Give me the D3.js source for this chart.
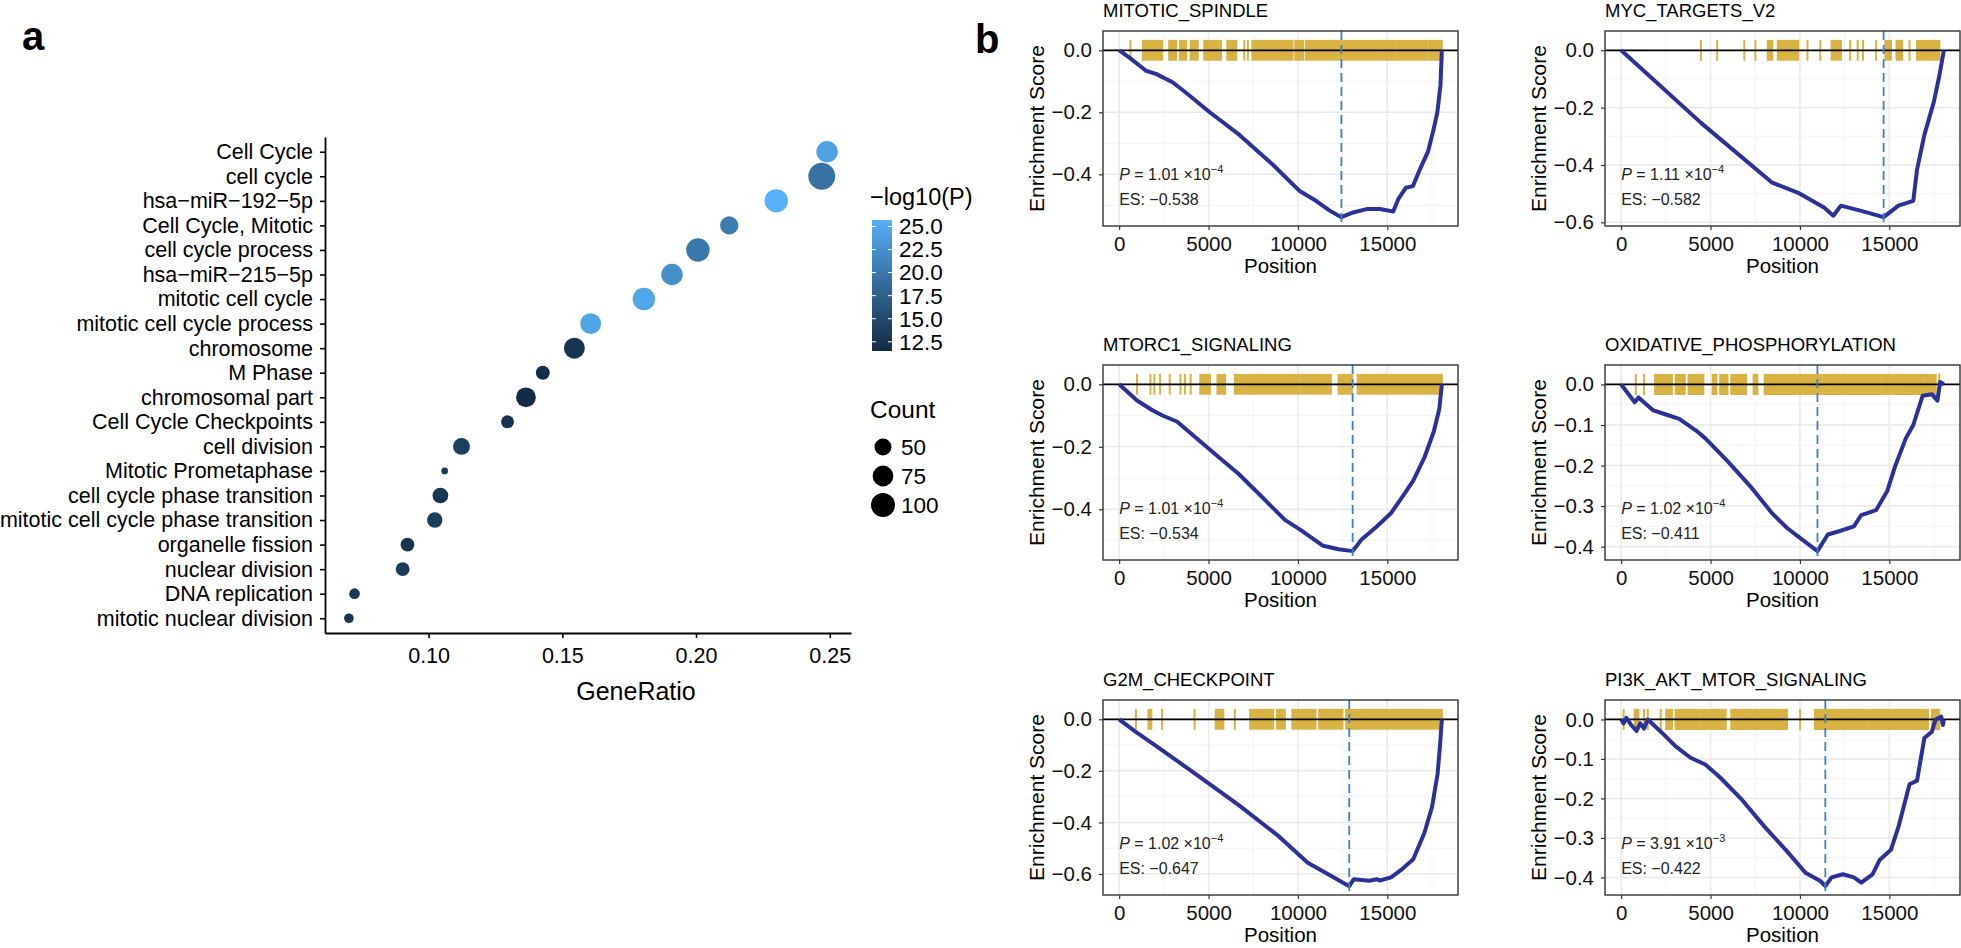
<!DOCTYPE html>
<html>
<head>
<meta charset="utf-8">
<script src="https://cdn.jsdelivr.net/npm/d3@7"></script>
<style>
  body { margin: 0; background: #fff; }
  svg { font-family: "Liberation Sans", Arial, Helvetica, sans-serif; }
</style>
</head>
<body>
<svg id="fig" width="1961" height="948"></svg>
<script>
// ---- panel a : enrichment dot plot ----
var terms = ["Cell Cycle", "cell cycle", "hsa\u2212miR\u2212192\u22125p", "Cell Cycle, Mitotic",
  "cell cycle process", "hsa\u2212miR\u2212215\u22125p", "mitotic cell cycle", "mitotic cell cycle process",
  "chromosome", "M Phase", "chromosomal part", "Cell Cycle Checkpoints", "cell division",
  "Mitotic Prometaphase", "cell cycle phase transition", "mitotic cell cycle phase transition",
  "organelle fission", "nuclear division", "DNA replication", "mitotic nuclear division"];
var geneRatio = [0.249, 0.247, 0.230, 0.2124, 0.2007, 0.191, 0.1805, 0.1606, 0.1545, 0.1427,
  0.1364, 0.1295, 0.1123, 0.106, 0.1044, 0.1023, 0.0921, 0.0903, 0.0723, 0.0702];
var geneCount = [80, 125, 95, 58, 95, 80, 88, 76, 76, 34, 68, 29, 50, 8, 43, 41, 33, 33, 20, 16];
var logP = [24.3, 19.4, 25.7, 20.5, 20.0, 22.6, 24.7, 24.5, 12.6, 11.9, 11.5, 12.4, 13.9, 13.6,
  12.8, 13.7, 12.5, 13.4, 13.1, 12.9];
var ratioTicks = [0.10, 0.15, 0.20, 0.25];
var logPTicks = [12.5, 15.0, 17.5, 20.0, 22.5, 25.0];
var countBreaks = [50, 75, 100];

// ---- panel b : GSEA running enrichment score ----
var gseaNames = ["MITOTIC_SPINDLE", "MYC_TARGETS_V2", "MTORC1_SIGNALING",
  "OXIDATIVE_PHOSPHORYLATION", "G2M_CHECKPOINT", "PI3K_AKT_MTOR_SIGNALING"];
var gseaPMant = ["1.01", "1.11", "1.01", "1.02", "1.02", "3.91"];
var gseaPExp = [-4, -4, -4, -4, -4, -3];
var gseaES = [-0.538, -0.582, -0.534, -0.411, -0.647, -0.422];
var esTicks = [
  [0, -0.2, -0.4],
  [0, -0.2, -0.4, -0.6],
  [0, -0.2, -0.4],
  [0, -0.1, -0.2, -0.3, -0.4],
  [0, -0.2, -0.4, -0.6],
  [0, -0.1, -0.2, -0.3, -0.4]];
var posTicks = [0, 5000, 10000, 15000];

// running ES: [rank position, ES]
var esCurves = [
  [[0, 0], [560, -0.023], [1500, -0.066], [2060, -0.076], [2990, -0.103], [3740, -0.137],
   [5050, -0.199], [6730, -0.273], [8600, -0.369], [10100, -0.454], [11030, -0.486],
   [11780, -0.517], [12430, -0.538], [13090, -0.523], [13840, -0.512], [14580, -0.512],
   [15330, -0.52], [15610, -0.48], [16040, -0.443], [16430, -0.438], [16860, -0.379],
   [17280, -0.326], [17600, -0.252], [17800, -0.199], [17970, -0.114], [18050, 0]],
  [[0, 0], [4500, -0.255], [8450, -0.462], [9900, -0.497], [11350, -0.548], [11870, -0.577],
   [12290, -0.542], [13430, -0.56], [14680, -0.582], [15510, -0.542], [16340, -0.525],
   [16550, -0.416], [16960, -0.295], [17490, -0.18], [17800, -0.088], [18050, 0]],
  [[0, 0], [1000, -0.052], [1860, -0.083], [2400, -0.099], [3250, -0.12], [4540, -0.183],
   [5610, -0.235], [6690, -0.287], [7980, -0.36], [9270, -0.434], [10120, -0.465],
   [11410, -0.517], [12270, -0.528], [13060, -0.534], [13560, -0.497], [14410, -0.455],
   [15200, -0.413], [15830, -0.361], [16450, -0.308], [17070, -0.235], [17600, -0.151],
   [17910, -0.078], [18050, 0]],
  [[0, 0], [760, -0.044], [970, -0.032], [1800, -0.064], [2630, -0.076], [3250, -0.085],
   [4290, -0.117], [4710, -0.133], [5950, -0.189], [7200, -0.25], [8450, -0.318],
   [9280, -0.354], [10110, -0.382], [10980, -0.411], [11560, -0.37], [12190, -0.362],
   [13020, -0.35], [13430, -0.322], [14260, -0.31], [14890, -0.262], [15300, -0.205],
   [15920, -0.133], [16340, -0.1], [16860, -0.028], [17380, -0.024], [17690, -0.04],
   [17840, 0.006], [18050, 0]],
  [[0, 0], [890, -0.047], [1960, -0.098], [4540, -0.225], [6690, -0.333], [8830, -0.448],
   [10550, -0.556], [11840, -0.607], [12870, -0.647], [13130, -0.62], [13990, -0.626],
   [14410, -0.62], [14580, -0.625], [15210, -0.613], [15830, -0.581], [16450, -0.543],
   [17070, -0.441], [17500, -0.34], [17810, -0.212], [17950, -0.098], [18050, 0]],
  [[0, 0], [140, -0.01], [290, 0.004], [560, -0.014], [860, -0.029], [1070, -0.01],
   [1280, -0.023], [1490, 0], [2220, -0.031], [3050, -0.068], [3880, -0.097], [4710, -0.114],
   [5540, -0.147], [6790, -0.205], [8030, -0.272], [9280, -0.334], [10310, -0.388],
   [11140, -0.409], [11420, -0.422], [11770, -0.4], [12400, -0.392], [13020, -0.4],
   [13430, -0.413], [14060, -0.392], [14470, -0.355], [15090, -0.33], [15510, -0.272],
   [16130, -0.164], [16550, -0.155], [16960, -0.047], [17380, -0.031], [17590, 0],
   [17900, 0.007], [18000, -0.014], [18050, 0]]];

// gene-set hits along the ranked list, [from, to] (single hits have from == to)
var hitBlocks = [
  [[634, 634], [1330, 2400], [2800, 3200], [3400, 3750], [4000, 4400], [4760, 5700],
   [6050, 6550], [7000, 7000], [7200, 7200], [7450, 8100], [8200, 8600], [8700, 9700],
   [9850, 10300], [10450, 12350], [12450, 14700], [14800, 15400], [15500, 16500],
   [16600, 17200], [17300, 18050]],
  [[4460, 4460], [5370, 5370], [6890, 6890], [7510, 7510], [8200, 8450], [8760, 9900],
   [10420, 10420], [11140, 11140], [11770, 12290], [12810, 12810], [13230, 13230],
   [13530, 13530], [14260, 14260], [14780, 15090], [15400, 15720], [16130, 16130],
   [16550, 17800]],
  [[1000, 1000], [1750, 1750], [1970, 1970], [2290, 2290], [2830, 2830], [3430, 3430],
   [3680, 3680], [4000, 4000], [4540, 5080], [5500, 5930], [6470, 7000], [7100, 8900],
   [9000, 10100], [10200, 11840], [12270, 13020], [13340, 18050]],
  [[820, 820], [1280, 1280], [1900, 2840], [3050, 3560], [3770, 4600], [5120, 5330],
   [5540, 5950], [6160, 6990], [7410, 7620], [8030, 11200], [11300, 14500], [14600, 16900],
   [17000, 17590], [17790, 17790]],
  [[940, 940], [1640, 1800], [2400, 2400], [4220, 4220], [5400, 5830], [6470, 6470],
   [7330, 8620], [8830, 9270], [9690, 10980], [11190, 12490], [12700, 18050]],
  [[140, 140], [760, 970], [1280, 1280], [1490, 1490], [2215, 2215], [2525, 2840],
   [3045, 4400], [4500, 5850], [6160, 7600], [7700, 9280], [10010, 10010], [10840, 13800],
   [13900, 17160], [17380, 17790]]];

var svg = d3.select("#fig");
var fmtMinus = d3.format(".3f");

function drawDotPlot() {
  var left = 325, right = 851, top = 137, bottom = 633;
  var g = svg.append("g");

  var y = d3.scalePoint().domain(terms).range([top, bottom]).padding(0.6);
  var ext = d3.extent(geneRatio), pad = (ext[1] - ext[0]) * 0.05;
  var x = d3.scaleLinear().domain([ext[0] - pad, ext[1] + pad]).range([left, right]);
  var r = d3.scaleSqrt().domain([0, 100]).range([0, 12]);
  var pExt = d3.extent(logP);
  var col = d3.scaleLinear().domain(pExt).range(["#132B43", "#56B1F7"]).interpolate(d3.interpolateLab);

  g.selectAll("circle.dot")
    .data(terms)
    .enter().append("circle")
    .attr("class", "dot")
    .attr("cx", function(d, i) { return x(geneRatio[i]); })
    .attr("cy", function(d) { return y(d); })
    .attr("r", function(d, i) { return r(geneCount[i]); })
    .style("fill", function(d, i) { return col(logP[i]); });

  var ya = g.append("g").attr("transform", "translate(" + left + ",0)")
    .call(d3.axisLeft(y).tickSize(5).tickSizeOuter(0).tickPadding(7));
  var xa = g.append("g").attr("transform", "translate(0," + bottom + ")")
    .call(d3.axisBottom(x).tickValues(ratioTicks).tickFormat(d3.format(".2f"))
      .tickSize(5).tickSizeOuter(0).tickPadding(10));
  [ya, xa].forEach(function(a) {
    a.select(".domain").attr("stroke", "#000").attr("stroke-width", 1.8);
    a.selectAll(".tick line").attr("stroke", "#000").attr("stroke-width", 1.6);
    a.selectAll(".tick text").attr("fill", "#000").style("font-size", "21.5px");
  });

  g.append("text")
    .attr("x", 636).attr("y", 700)
    .attr("text-anchor", "middle")
    .style("font-size", "25px")
    .text("GeneRatio");

  // colour bar legend
  var lx = 872, cbTop = 220, cbBot = 351, cbW = 20;
  g.append("text").attr("x", lx - 2).attr("y", 205).style("font-size", "23.5px").text("\u2212log10(P)");
  var grad = svg.append("defs").append("linearGradient")
    .attr("id", "cbar").attr("x1", 0).attr("y1", 1).attr("x2", 0).attr("y2", 0);
  d3.range(0, 1.0001, 0.1).forEach(function(t) {
    grad.append("stop").attr("offset", t).attr("stop-color", col(pExt[0] + t * (pExt[1] - pExt[0])));
  });
  g.append("rect").attr("x", lx).attr("y", cbTop).attr("width", cbW).attr("height", cbBot - cbTop)
    .style("fill", "url(#cbar)");
  var cy = d3.scaleLinear().domain(pExt).range([cbBot, cbTop]);
  logPTicks.forEach(function(v) {
    g.append("line").attr("x1", lx).attr("x2", lx + 4).attr("y1", cy(v)).attr("y2", cy(v))
      .attr("stroke", "#fff").attr("stroke-width", 1);
    g.append("line").attr("x1", lx + cbW - 4).attr("x2", lx + cbW).attr("y1", cy(v)).attr("y2", cy(v))
      .attr("stroke", "#fff").attr("stroke-width", 1);
    g.append("text").attr("x", lx + 27).attr("y", cy(v)).attr("dy", "0.35em")
      .style("font-size", "22.5px").text(d3.format(".1f")(v));
  });

  // size legend
  g.append("text").attr("x", lx - 2).attr("y", 418).style("font-size", "24.5px").text("Count");
  countBreaks.forEach(function(v, i) {
    var yy = 447 + i * 29;
    g.append("circle").attr("cx", lx + 11).attr("cy", yy).attr("r", r(v)).style("fill", "#000");
    g.append("text").attr("x", lx + 29).attr("y", yy).attr("dy", "0.35em")
      .style("font-size", "22.5px").text(v);
  });

  svg.append("text").attr("x", 22).attr("y", 50).style("font-size", "40px")
    .style("font-weight", "bold").text("a");
}

function minorOf(ticks, dom) {
  var step = Math.abs(ticks[1] - ticks[0]);
  var out = ticks.map(function(t) { return t - step / 2; });
  out.push(d3.max(ticks) + step / 2);
  out.push(d3.min(ticks) - step / 2);
  return out.filter(function(v, k, a) {
    return v > d3.min(dom) && v < d3.max(dom) && a.indexOf(v) === k;
  });
}

function drawGsea(i, left, top) {
  var W = 355, H = 195;
  var g = svg.append("g");
  var curve = esCurves[i];

  var esMin = d3.min(curve, function(d) { return d[1]; });
  var esMax = d3.max(curve, function(d) { return d[1]; });
  var diff = (esMax - esMin) / 8;
  var hi = Math.max(esMax, diff / 2), lo = esMin;
  var yPad = (hi - lo) * 0.05;
  var y = d3.scaleLinear().domain([lo - yPad, hi + yPad]).range([top + H, top]);
  var nGenes = d3.max(curve, function(d) { return d[0]; });
  var x = d3.scaleLinear().domain([-nGenes * 0.05, nGenes * 1.05]).range([left, left + W]);

  g.append("rect").attr("x", left).attr("y", top).attr("width", W).attr("height", H).style("fill", "#fff");

  // grid
  minorOf(posTicks, x.domain()).forEach(function(v) {
    g.append("line").attr("x1", x(v)).attr("x2", x(v)).attr("y1", top).attr("y2", top + H)
      .attr("stroke", "#f3f3f3").attr("stroke-width", 0.9);
  });
  minorOf(esTicks[i], y.domain()).forEach(function(v) {
    g.append("line").attr("y1", y(v)).attr("y2", y(v)).attr("x1", left).attr("x2", left + W)
      .attr("stroke", "#f3f3f3").attr("stroke-width", 0.9);
  });
  posTicks.forEach(function(v) {
    g.append("line").attr("x1", x(v)).attr("x2", x(v)).attr("y1", top).attr("y2", top + H)
      .attr("stroke", "#e9e9e9").attr("stroke-width", 1.5);
  });
  esTicks[i].forEach(function(v) {
    g.append("line").attr("y1", y(v)).attr("y2", y(v)).attr("x1", left).attr("x2", left + W)
      .attr("stroke", "#e9e9e9").attr("stroke-width", 1.5);
  });

  // hits
  g.selectAll("rect.hit")
    .data(hitBlocks[i])
    .enter().append("rect")
    .attr("class", "hit")
    .attr("x", function(d) { return x(d[0]) - 1; })
    .attr("width", function(d) { return x(d[1]) - x(d[0]) + 2; })
    .attr("y", y(diff / 2))
    .attr("height", y(-diff / 2) - y(diff / 2))
    .style("fill", "#d9b244");

  g.append("line").attr("x1", left).attr("x2", left + W).attr("y1", y(0)).attr("y2", y(0))
    .attr("stroke", "#000").attr("stroke-width", 1.8);

  var line = d3.line().x(function(d) { return x(d[0]); }).y(function(d) { return y(d[1]); });
  g.append("path").datum(curve).attr("d", line)
    .attr("fill", "none").attr("stroke", "#2b3199").attr("stroke-width", 4)
    .attr("stroke-linejoin", "round");

  var minPt = curve[d3.minIndex(curve, function(d) { return d[1]; })];
  g.append("line").attr("x1", x(minPt[0])).attr("x2", x(minPt[0])).attr("y1", top).attr("y2", top + H)
    .attr("stroke", "#3b82c4").attr("stroke-width", 1.8).attr("stroke-dasharray", "9,5");

  g.append("rect").attr("x", left).attr("y", top).attr("width", W).attr("height", H)
    .style("fill", "none").attr("stroke", "#333").attr("stroke-width", 1.4);

  // axes
  var ya = g.append("g").attr("transform", "translate(" + left + ",0)")
    .call(d3.axisLeft(y).tickValues(esTicks[i]).tickFormat(d3.format(".1f")).tickSize(4).tickPadding(7));
  var xa = g.append("g").attr("transform", "translate(0," + (top + H) + ")")
    .call(d3.axisBottom(x).tickValues(posTicks).tickFormat(d3.format("d")).tickSize(4).tickPadding(6));
  [ya, xa].forEach(function(a) {
    a.select(".domain").remove();
    a.selectAll(".tick line").attr("stroke", "#333").attr("stroke-width", 1.2);
    a.selectAll(".tick text").attr("fill", "#111").style("font-size", "20.5px");
  });

  g.append("text").attr("x", left + W / 2).attr("y", top + H + 47).attr("text-anchor", "middle")
    .style("font-size", "20.5px").text("Position");
  g.append("text")
    .attr("transform", "translate(" + (left - 66) + "," + (top + H / 2) + ") rotate(-90)")
    .attr("text-anchor", "middle").attr("dy", "0.35em")
    .style("font-size", "21px").text("Enrichment Score");
  g.append("text").attr("x", left).attr("y", top - 14).style("font-size", "18.5px").text(gseaNames[i]);

  // p value and ES
  var ann = g.append("text").attr("x", x(0)).attr("y", top + H - 46).style("font-size", "16px")
    .attr("fill", "#222");
  ann.append("tspan").style("font-style", "italic").text("P");
  ann.append("tspan").text(" = " + gseaPMant[i] + " \u00d710");
  ann.append("tspan").attr("dy", -7).style("font-size", "11px").text(d3.format("d")(gseaPExp[i]));
  g.append("text").attr("x", x(0)).attr("y", top + H - 21).style("font-size", "16px")
    .attr("fill", "#222").text("ES: " + fmtMinus(gseaES[i]));
}

drawDotPlot();

var colX = [1103, 1605], rowY = [31, 365, 700];
gseaNames.forEach(function(name, i) {
  drawGsea(i, colX[i % 2], rowY[Math.floor(i / 2)]);
});

svg.append("text").attr("x", 975).attr("y", 53).style("font-size", "40px")
  .style("font-weight", "bold").text("b");
</script>
</body>
</html>
